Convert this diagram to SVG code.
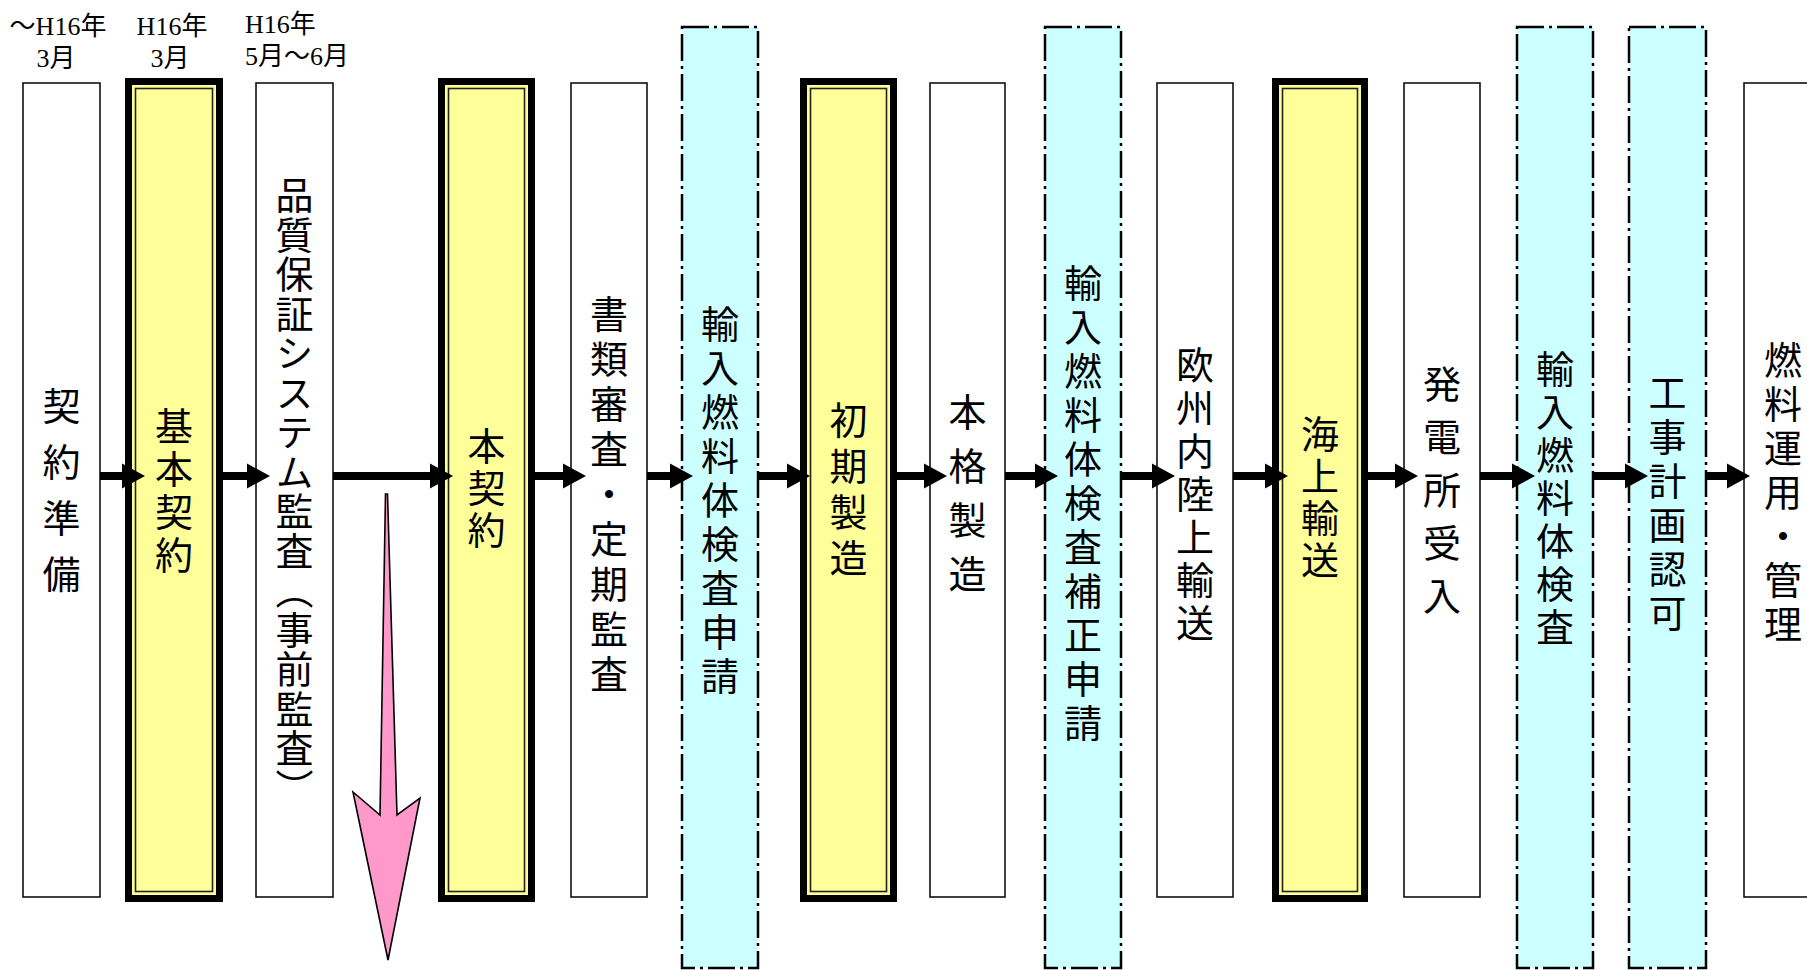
<svg xmlns="http://www.w3.org/2000/svg" width="1807" height="970" viewBox="0 0 1807 970">
<style>
.bg{fill:#fff}
.white{fill:#fff;stroke:#111;stroke-width:1.6}
.yout{fill:#FFFF99;stroke:#000;stroke-width:7}
.yin{fill:none;stroke:#222;stroke-width:1.6}
.cyan{fill:#CCFFFF;stroke:#000;stroke-width:2.5;stroke-dasharray:27 5 3 5}
.v{font-family:"Noto Sans CJK JP","Noto Sans CJK SC",sans-serif;font-size:38px;fill:#000;writing-mode:vertical-rl;text-anchor:middle}
.h{font-family:"Liberation Serif","Noto Sans CJK JP",serif;font-size:26px;fill:#000}
.conn{stroke:#000;stroke-width:8;fill:none;marker-end:url(#ah)}
.pink{fill:#FF99CC;stroke:#000;stroke-width:1.6;stroke-linejoin:miter}
</style>
<defs>
<marker id="ah" markerUnits="userSpaceOnUse" markerWidth="24" markerHeight="26" refX="0" refY="12.5" orient="auto" overflow="visible">
<path d="M0,0 L23,12.5 L0,25 z" fill="#000"/>
</marker>
</defs>
<rect class="bg" x="0" y="0" width="1807" height="970"/>

<g id="headers">
<text class="h" x="58" y="35" text-anchor="middle">～H16年</text>
<text class="h" x="56" y="67" text-anchor="middle">3月</text>
<text class="h" x="172" y="35" text-anchor="middle">H16年</text>
<text class="h" x="170" y="67" text-anchor="middle">3月</text>
<text class="h" x="245" y="33">H16年</text>
<text class="h" x="245" y="65">5月～6月</text>
</g>

<g id="n1"><rect class="white" x="23" y="83" width="77" height="814"/>
<text class="v" x="61.5" y="499" style="letter-spacing:18px">契約準備</text></g>

<g id="n2"><rect class="yout" x="128.5" y="81.5" width="91" height="817"/><rect class="yin" x="135.5" y="88.5" width="77" height="803"/>
<text class="v" x="174" y="492.5" style="letter-spacing:5px">基本契約</text></g>

<g id="n3"><rect class="white" x="256" y="83" width="77" height="814"/>
<text class="v" x="294.5" y="492" style="letter-spacing:1.5px">品質保証システム監査（事前監査）</text></g>

<g id="n4"><rect class="yout" x="441.5" y="81.5" width="90" height="817"/><rect class="yin" x="448.5" y="88.5" width="76" height="803"/>
<text class="v" x="486.5" y="490" style="letter-spacing:4px">本契約</text></g>

<g id="n5"><rect class="white" x="571" y="83" width="76" height="814"/>
<text class="v" x="609" y="497.5" style="letter-spacing:7px">書類審査・定期監査</text></g>

<g id="n6"><rect class="cyan" x="682" y="27" width="76" height="941"/>
<text class="v" x="720" y="503" style="letter-spacing:6px">輸入燃料体検査申請</text></g>

<g id="n7"><rect class="yout" x="803.5" y="81.5" width="90" height="817"/><rect class="yin" x="810.5" y="88.5" width="76" height="803"/>
<text class="v" x="848.5" y="493" style="letter-spacing:8px">初期製造</text></g>

<g id="n8"><rect class="white" x="930" y="83" width="75" height="814"/>
<text class="v" x="967.5" y="501" style="letter-spacing:16px">本格製造</text></g>

<g id="n9"><rect class="cyan" x="1045" y="27" width="76" height="941"/>
<text class="v" x="1083" y="506" style="letter-spacing:6px">輸入燃料体検査補正申請</text></g>

<g id="n10"><rect class="white" x="1157" y="83" width="76" height="814"/>
<text class="v" x="1195" y="496" style="letter-spacing:5px">欧州内陸上輸送</text></g>

<g id="n11"><rect class="yout" x="1275.5" y="81.5" width="89" height="817"/><rect class="yin" x="1282.5" y="88.5" width="75" height="803"/>
<text class="v" x="1320" y="499" style="letter-spacing:4px">海上輸送</text></g>

<g id="n12"><rect class="white" x="1404" y="83" width="76" height="814"/>
<text class="v" x="1442" y="497.5" style="letter-spacing:15px">発電所受入</text></g>

<g id="n13"><rect class="cyan" x="1517" y="27" width="76" height="941"/>
<text class="v" x="1555" y="500.5" style="letter-spacing:5px">輸入燃料体検査</text></g>

<g id="n14"><rect class="cyan" x="1629" y="27" width="77" height="941"/>
<text class="v" x="1667.5" y="506" style="letter-spacing:6px">工事計画認可</text></g>

<g id="n15"><rect class="white" x="1744" y="83" width="90" height="814"/>
<text class="v" x="1783" y="495" style="letter-spacing:6px">燃料運用・管理</text></g>

<g id="connectors">
<line class="conn" x1="100" y1="476" x2="122" y2="476"/>
<line class="conn" x1="223" y1="476" x2="247" y2="476"/>
<line class="conn" x1="333" y1="476" x2="430" y2="476"/>
<line class="conn" x1="535" y1="476" x2="563" y2="476"/>
<line class="conn" x1="647" y1="476" x2="670" y2="476"/>
<line class="conn" x1="758" y1="476" x2="787" y2="476"/>
<line class="conn" x1="897" y1="476" x2="924" y2="476"/>
<line class="conn" x1="1005" y1="476" x2="1035" y2="476"/>
<line class="conn" x1="1121" y1="476" x2="1152" y2="476"/>
<line class="conn" x1="1233" y1="476" x2="1265" y2="476"/>
<line class="conn" x1="1368" y1="476" x2="1395" y2="476"/>
<line class="conn" x1="1480" y1="476" x2="1512" y2="476"/>
<line class="conn" x1="1593" y1="476" x2="1625" y2="476"/>
<line class="conn" x1="1706" y1="476" x2="1727" y2="476"/>
</g>

<g id="down-arrow">
<polygon class="pink" points="385.5,494 387.5,494 397,815 420,798 388,960 353,792 380,815"/>
</g>
</svg>
